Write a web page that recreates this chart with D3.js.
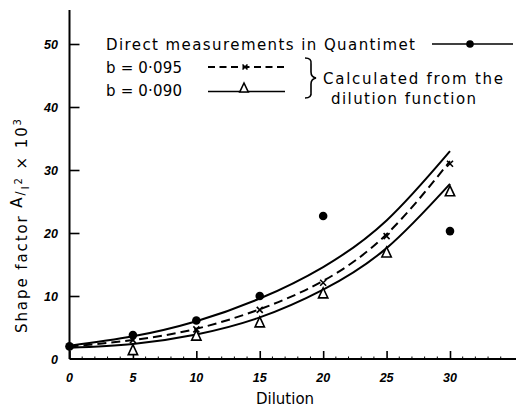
<!DOCTYPE html>
<html><head><meta charset="utf-8">
<script src="https://cdn.jsdelivr.net/npm/d3@7"></script>
<style>html,body{margin:0;padding:0;background:#fff;}svg{display:block;}</style>
</head><body>
<script>
// ---- data ----
const dilution = [0, 5, 10, 15, 20, 25, 30];
const upperCurve  = [2.1, 3.6, 6.0, 9.6, 14.6, 22.0, 33.0];   // solid (direct)
const dashedCurve = [2.0, 3.0, 4.8, 7.9, 12.4, 19.8, 31.4];   // b = 0.095
const lowerCurve  = [1.8, 2.4, 3.9, 6.6, 11.0, 17.6, 27.8];   // b = 0.090
const directX = [0, 5, 10, 15, 20, 30];
const directY = [2.0, 3.8, 6.1, 10.0, 22.7, 20.3];
const crossX = [5, 10, 15, 20, 25, 30];
const crossY = [3.0, 4.7, 7.8, 12.1, 19.5, 31.0];
const triX = [5, 10, 15, 20, 25, 30];
const triY = [1.4, 3.7, 5.8, 10.4, 16.9, 26.6];
const xTicks = [0, 5, 10, 15, 20, 25, 30];
const xTickLabels = ["0", "5", "10", "15", "20", "25", "30"];
const yTicks = [0, 10, 20, 30, 40, 50];
const yTickLabels = ["0", "10", "20", "30", "40", "50"];

const W = 516, H = 411;
const svg = d3.select("body").append("svg").attr("width", W).attr("height", H);

const x0 = 69.5, xEnd = 516, yBase = 359, yTop = 10;
const x = d3.scaleLinear().domain([0, 30]).range([x0, 450]);
const y = d3.scaleLinear().domain([0, 50]).range([yBase, 44]);

const font = "'DejaVu Sans', sans-serif";
const tickFont = "'Liberation Sans', Arial, sans-serif";

// axes lines
svg.append("line").attr("x1", x0).attr("x2", xEnd).attr("y1", yBase).attr("y2", yBase)
  .attr("stroke", "#000").attr("stroke-width", 2);
svg.append("line").attr("x1", x0).attr("x2", x0).attr("y1", yTop).attr("y2", yBase)
  .attr("stroke", "#000").attr("stroke-width", 2);

// x axis ticks (inward)
const xAxis = d3.axisTop(x).tickValues(xTicks).tickSize(8).tickFormat("");
const gx = svg.append("g").attr("transform", `translate(0,${yBase})`).call(xAxis);
gx.select(".domain").remove();
gx.selectAll(".tick line").attr("stroke-width", 1.6);
const minor = d3.range(1, 35).filter(v => v % 5 !== 0);
svg.append("g").selectAll("line").data(minor).join("line")
  .attr("x1", d => x(d)).attr("x2", d => x(d)).attr("y1", yBase).attr("y2", yBase - 2.5)
  .attr("stroke", "#000").attr("stroke-width", 1);
svg.append("g").selectAll("text").data(xTicks).join("text")
  .attr("x", d => x(d)).attr("y", 382).attr("text-anchor", "middle")
  .attr("font-family", tickFont).attr("font-weight", "bold").attr("font-style", "italic")
  .attr("font-size", 12.5).text((d, i) => xTickLabels[i]);

// y axis ticks inward
const yAxis = d3.axisRight(y).tickValues(yTicks.filter(v => v > 0)).tickSize(10).tickFormat("");
const gy = svg.append("g").attr("transform", `translate(${x0},0)`).call(yAxis);
gy.select(".domain").remove();
gy.selectAll(".tick line").attr("stroke-width", 1.6);
svg.append("g").selectAll("text").data(yTicks).join("text")
  .attr("x", 58).attr("y", d => y(d) + 4.5).attr("text-anchor", "end")
  .attr("font-family", tickFont).attr("font-weight", "bold").attr("font-style", "italic")
  .attr("font-size", 12.5).text((d, i) => yTickLabels[i]);

// axis titles
svg.append("text").attr("x", 285).attr("y", 404).attr("text-anchor", "middle")
  .attr("font-family", font).attr("font-size", 15).text("Dilution");

const yl = svg.append("text").attr("transform", "translate(27,226) rotate(-90)")
  .attr("text-anchor", "middle").attr("font-family", font).attr("font-size", 15)
  .attr("textLength", 214).attr("lengthAdjust", "spacing");
yl.append("tspan").text("Shape factor  ");
yl.append("tspan").attr("dy", -5).text("A");
yl.append("tspan").attr("dy", 2).attr("font-size", 12).text("/");
yl.append("tspan").attr("dy", 5).attr("font-size", 11).text("I");
yl.append("tspan").attr("dy", -7).attr("font-size", 10).text("2");
yl.append("tspan").attr("dy", 5).text("  × 10");
yl.append("tspan").attr("dy", -6).attr("font-size", 10).text("3");

// curves
const line = d3.line().x(d => x(d[0])).y(d => y(d[1])).curve(d3.curveNatural);
svg.append("path").attr("d", line(dilution.map((d, i) => [d, upperCurve[i]])))
  .attr("fill", "none").attr("stroke", "#000").attr("stroke-width", 2);
svg.append("path").attr("d", line(dilution.map((d, i) => [d, dashedCurve[i]])))
  .attr("fill", "none").attr("stroke", "#000").attr("stroke-width", 2).attr("stroke-dasharray", "9,5");
svg.append("path").attr("d", line(dilution.map((d, i) => [d, lowerCurve[i]])))
  .attr("fill", "none").attr("stroke", "#000").attr("stroke-width", 2);

// markers
function triPath(cx, cy, s) {
  return `M${cx},${cy - s}L${cx + s * 0.85},${cy + s * 0.8}L${cx - s * 0.85},${cy + s * 0.8}Z`;
}
function crossPath(cx, cy, s) {
  return `M${cx - s},${cy - s}L${cx + s},${cy + s}M${cx - s},${cy + s}L${cx + s},${cy - s}`;
}
svg.append("g").selectAll("path").data(triX).join("path")
  .attr("d", (d, i) => triPath(x(d), y(triY[i]), 5.5))
  .attr("fill", "#fff").attr("stroke", "#000").attr("stroke-width", 1.6);
svg.append("g").selectAll("path").data(crossX).join("path")
  .attr("d", (d, i) => crossPath(x(d), y(crossY[i]), 3))
  .attr("fill", "none").attr("stroke", "#000").attr("stroke-width", 1.6);
svg.append("g").selectAll("circle").data(directX).join("circle")
  .attr("cx", d => x(d)).attr("cy", (d, i) => y(directY[i])).attr("r", 4.3).attr("fill", "#000");

// legend
const lg = svg.append("g").attr("font-family", font).attr("font-size", 15).attr("fill", "#000");
lg.append("text").attr("x", 106).attr("y", 50).attr("textLength", 309).attr("lengthAdjust", "spacing")
  .text("Direct measurements in Quantimet");
lg.append("line").attr("x1", 432).attr("x2", 513).attr("y1", 44).attr("y2", 44)
  .attr("stroke", "#000").attr("stroke-width", 1.6);
lg.append("circle").attr("cx", 470).attr("cy", 44).attr("r", 3.8).attr("fill", "#000");

lg.append("text").attr("x", 106).attr("y", 73).attr("textLength", 76).attr("lengthAdjust", "spacing")
  .text("b = 0·095");
lg.append("line").attr("x1", 208).attr("x2", 284).attr("y1", 67).attr("y2", 67)
  .attr("stroke", "#000").attr("stroke-width", 2).attr("stroke-dasharray", "7,4.5");
lg.append("path").attr("d", crossPath(245, 67, 2.5)).attr("fill", "none")
  .attr("stroke", "#000").attr("stroke-width", 1.6);

lg.append("text").attr("x", 106).attr("y", 96).attr("textLength", 76).attr("lengthAdjust", "spacing")
  .text("b = 0·090");
lg.append("line").attr("x1", 208).attr("x2", 285).attr("y1", 91.5).attr("y2", 91.5)
  .attr("stroke", "#000").attr("stroke-width", 1.6);
lg.append("path").attr("d", triPath(244, 88, 5)).attr("fill", "#fff")
  .attr("stroke", "#000").attr("stroke-width", 1.6);

// brace
lg.append("path")
  .attr("d", "M305,58 Q312,58 311,64 L311,72 Q311,77 316,78 Q311,79 311,84 L311,92 Q312,98 305,98")
  .attr("fill", "none").attr("stroke", "#000").attr("stroke-width", 1.6);
lg.append("text").attr("x", 323).attr("y", 84).attr("textLength", 180).attr("lengthAdjust", "spacing")
  .text("Calculated from the");
lg.append("text").attr("x", 331).attr("y", 104).attr("textLength", 145).attr("lengthAdjust", "spacing")
  .text("dilution function");
</script>
</body></html>
